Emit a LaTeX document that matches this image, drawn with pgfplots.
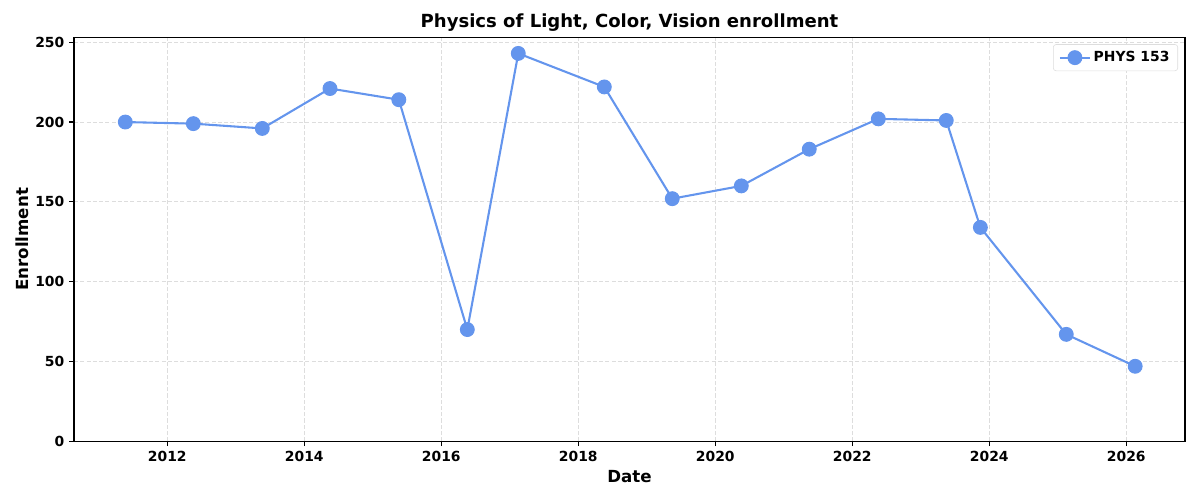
\documentclass[border=0pt]{standalone}
\usepackage{fontspec}
\setmainfont{DejaVu Sans}
\usepackage{pgfplots}
\pgfplotsset{compat=1.18}
\definecolor{cfblue}{RGB}{100,149,237}
\definecolor{gridc}{RGB}{221,221,221}
\begin{document}
\begin{tikzpicture}
\useasboundingbox (0,0) rectangle (864pt,360pt);
\begin{axis}[
  at={(53.28pt,42.26pt)}, anchor=south west,
  scale only axis, width=799.9pt, height=290.9pt,
  xmin=2010.638, xmax=2026.857, ymin=0, ymax=253.1,
  xtick={2012,2014,...,2026}, minor x tick num=3,
  ytick={0,50,...,250},
  tick align=outside, tick pos=left,
  major tick length=3.5pt, minor tick length=2pt,
  every tick/.style={black, line width=0.8pt},
  axis line style={line width=0.8pt},
  /pgf/number format/assume math mode=true,
  /pgf/number format/1000 sep={},
  ticklabel style={font=\fontsize{10}{12}\selectfont\bfseries},
  grid=major,
  major grid style={gridc, dash pattern=on 3pt off 1.5pt, line width=0.6pt},
  title={Physics of Light, Color, Vision enrollment},
  title style={font=\fontsize{13}{15}\selectfont\bfseries, at={(axis description cs:0.5,1)}, anchor=center, yshift=4.5pt},
  xlabel={Date}, ylabel={Enrollment},
  xlabel style={font=\fontsize{12}{14}\selectfont\bfseries, at={(axis description cs:0.5,0)}, anchor=center, yshift=-25.7pt},
  ylabel style={font=\fontsize{12}{14}\selectfont\bfseries, at={(axis description cs:0,0.5)}, anchor=center, yshift=37.4pt},
  legend style={at={(1,1)}, anchor=north east, xshift=-5pt, yshift=-5pt, draw=gridc, rounded corners=2pt, font=\fontsize{10}{12}\selectfont\bfseries, inner xsep=4pt, inner ysep=3pt},
  legend cell align=left,
  legend image code/.code={\draw[mark repeat=2,mark phase=2] plot coordinates {(0pt,0pt) (10.8pt,0pt) (21.6pt,0pt)};},
]
\addplot[cfblue, line width=1.5pt, mark=*, mark size=5pt, mark options={fill=cfblue, draw=cfblue, line width=0.7pt}] coordinates {
(2011.387,200) (2012.38,199) (2013.387,196) (2014.375,221) (2015.38,214)
(2016.38,70) (2017.124,243) (2018.38,222) (2019.372,152) (2020.38,160)
(2021.372,183) (2022.38,202) (2023.372,201) (2023.87,134) (2025.124,67)
(2026.13,47)
};
\addlegendentry{PHYS 153}
\end{axis}
\end{tikzpicture}
\end{document}
